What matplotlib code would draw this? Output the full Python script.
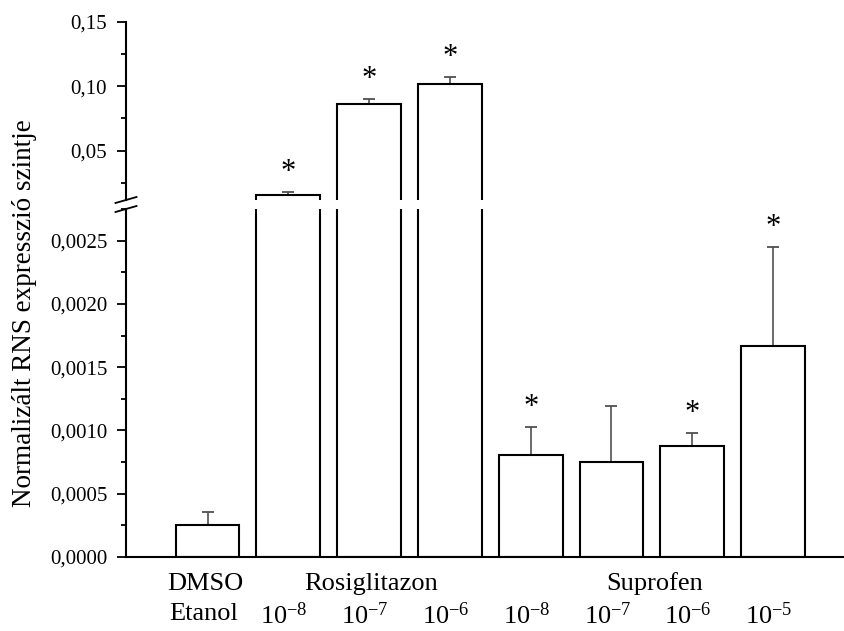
import matplotlib
matplotlib.use('Agg')
import matplotlib.pyplot as plt
import numpy as np
from matplotlib.ticker import FixedLocator, FuncFormatter
from matplotlib.transforms import blended_transform_factory

plt.rcParams['font.family'] = ['Liberation Serif', 'DejaVu Serif']
plt.rcParams['mathtext.fontset'] = 'custom'
plt.rcParams['mathtext.rm'] = 'Liberation Serif'
plt.rcParams['mathtext.it'] = 'Liberation Serif:italic'
plt.rcParams['mathtext.bf'] = 'Liberation Serif:bold'

# ---------------- data ----------------
values = [0.000253, 0.0154, 0.0862, 0.1019, 0.000806, 0.000753, 0.00088, 0.00167]
errors = [0.000105, 0.0021, 0.0042, 0.0051, 0.000222, 0.000438, 0.000103, 0.000783]
significant = [False, True, True, True, True, False, True, True]
conc_labels = ['', r'$10^{-8}$', r'$10^{-7}$', r'$10^{-6}$',
               r'$10^{-8}$', r'$10^{-7}$', r'$10^{-6}$', r'$10^{-5}$']
group_labels = ['DMSO', 'Rosiglitazon', 'Suprofen']
group_members = [[0], [1, 2, 3], [4, 5, 6, 7]]
vehicle_label = 'Etanol'
ylabel = 'Normalizált RNS expresszió szintje'
low_ticks = [0.0, 0.0005, 0.0010, 0.0015, 0.0020, 0.0025]
up_ticks = [0.05, 0.10, 0.15]
low_lim = (0.0, 0.00275)
up_lim = (0.0115, 0.15)

# ---------------- figure ----------------
W, H = 844, 631
fig = plt.figure(figsize=(W / 100, H / 100), dpi=100)

left_px, right_px = 126, 844
low_bot, low_top = 557, 209
up_bot, up_top = 200, 22

ax_low = fig.add_axes([left_px / W, (H - low_bot) / H, (right_px - left_px) / W,
                       (low_bot - low_top) / H])
ax_up = fig.add_axes([left_px / W, (H - up_bot) / H, (right_px - left_px) / W,
                      (up_bot - up_top) / H])

x = np.arange(len(values))
lo_err = np.zeros(len(values))
lw = 1.5

for ax in (ax_low, ax_up):
    ax.bar(x, values, width=0.79, facecolor='white', edgecolor='black',
           linewidth=lw, zorder=2)
    ax.errorbar(x, values, yerr=[lo_err, errors], fmt='none', ecolor='#505050',
                elinewidth=1.2, capsize=4.3, capthick=1.3, zorder=1)
    ax.set_xlim(-1.009, 7.879)
    for s in ('top', 'right'):
        ax.spines[s].set_visible(False)
    ax.spines['left'].set_linewidth(lw)
    ax.spines['bottom'].set_linewidth(lw)
    ax.tick_params(axis='y', which='major', direction='out', length=6.5,
                   width=1.3, labelsize=15, pad=7)
    ax.tick_params(axis='y', which='minor', direction='out', length=3.6,
                   width=1.3)
    ax.set_xticks([])

ax_low.set_ylim(*low_lim)
ax_up.set_ylim(*up_lim)
ax_up.spines['bottom'].set_visible(False)

ax_low.yaxis.set_major_locator(FixedLocator(low_ticks))
ax_low.yaxis.set_minor_locator(FixedLocator(
    [t + 0.00025 for t in low_ticks]))
ax_low.yaxis.set_major_formatter(FuncFormatter(lambda v, p: f'{v:.4f}'.replace('.', ',')))

ax_up.yaxis.set_major_locator(FixedLocator(up_ticks))
ax_up.yaxis.set_minor_locator(FixedLocator([t - 0.025 for t in up_ticks]))
ax_up.yaxis.set_major_formatter(FuncFormatter(lambda v, p: f'{v:.2f}'.replace('.', ',')))

# significance stars
for i, (v, e, sig) in enumerate(zip(values, errors, significant)):
    if not sig:
        continue
    ax = ax_up if v > low_lim[1] else ax_low
    ax.annotate('*', xy=(x[i], v + e), xytext=(0, 14), textcoords='offset points',
                ha='center', va='center', fontsize=22, zorder=3)

# axis break marks
def brk(ax, y_axes, h_px):
    dx = 10.5 / (right_px - left_px)
    dy = 3.0 / h_px
    ax.plot([-dx, dx], [y_axes - dy, y_axes + dy], transform=ax.transAxes,
            color='black', lw=1.3, clip_on=False)

brk(ax_up, 0.0, up_bot - up_top)
brk(ax_low, 1.0, low_bot - low_top)

# category labels
tr = blended_transform_factory(ax_low.transData, fig.transFigure)
for name, members in zip(group_labels, group_members):
    cx = np.mean(x[members])
    fig_y = (H - 590) / H
    if len(members) == 1:
        ax_low.text(cx - 0.03, fig_y, name, transform=tr, ha='center',
                    va='baseline', fontsize=19)
    else:
        ax_low.text(cx + 0.03, fig_y, name, transform=tr, ha='center',
                    va='baseline', fontsize=19)
ax_low.text(x[0] - 0.05, (H - 620) / H, vehicle_label, transform=tr,
            ha='center', va='baseline', fontsize=19)
for i, lab in enumerate(conc_labels):
    if lab:
        ax_low.text(x[i] - 0.05, (H - 624) / H, lab, transform=tr,
                    ha='center', va='baseline', fontsize=19)

fig.text(25 / W, (H - 313) / H, ylabel, rotation=90, ha='center', va='center',
         fontsize=19.5)

fig.savefig('out.png', dpi=100)
